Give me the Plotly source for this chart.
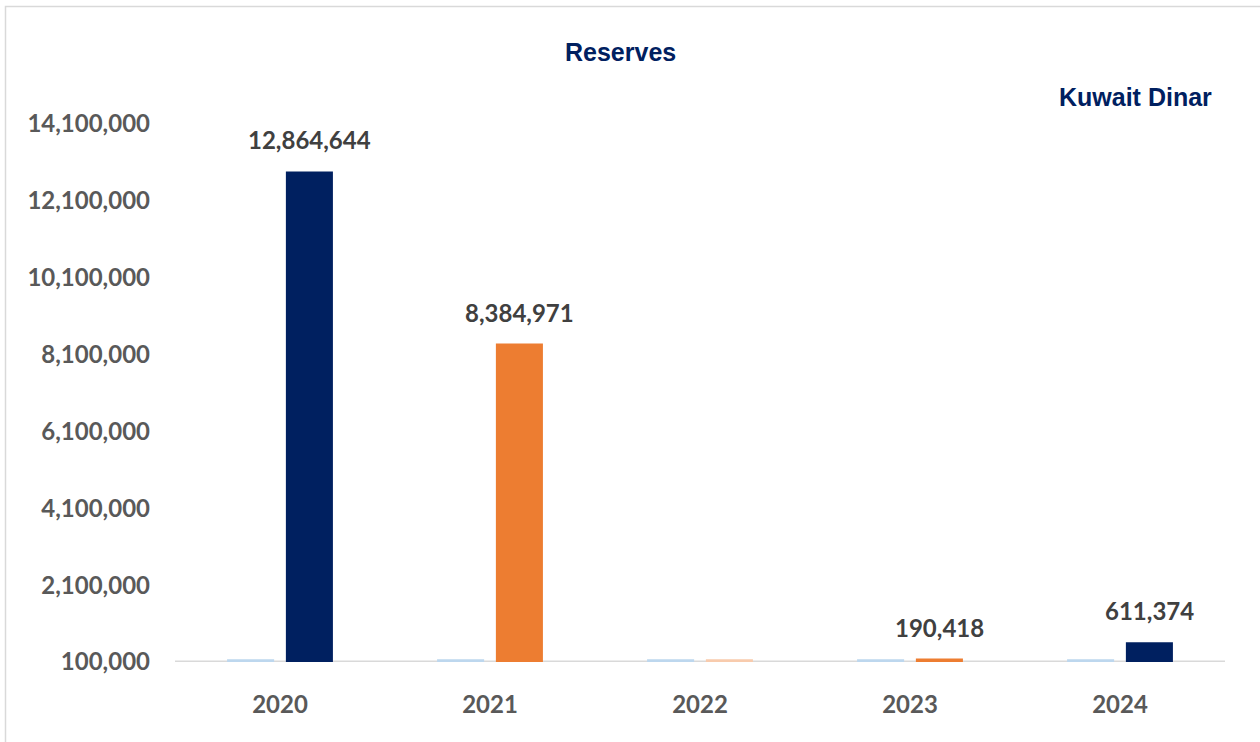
import plotly.graph_objects as go

# ---- data ----
years = ["2020", "2021", "2022", "2023", "2024"]
reserves = [12864644, 8384971, 170000, 190418, 611374]
reserve_labels = ["12,864,644", "8,384,971", "", "190,418", "611,374"]
placeholder = [170000, 170000, 170000, 170000, 170000]
bar_colors = ["#002060", "#ED7D31", "#F8CBAD", "#ED7D31", "#002060"]
y_ticks = [100000, 2100000, 4100000, 6100000, 8100000, 10100000, 12100000, 14100000]

NAVY = "#002060"
TICK_GRAY = "#595959"
LABEL_GRAY = "#404040"
NUM_FONT = "Lato, 'Open Sans', sans-serif"
TITLE_FONT = "'Liberation Sans', Arial, sans-serif"

fig = go.Figure()
fig.add_trace(go.Bar(
    x=years, y=placeholder, name="placeholder",
    marker=dict(color="#BDD7EE", line=dict(width=0)),
    hoverinfo="skip", showlegend=False,
))
fig.add_trace(go.Bar(
    x=years, y=reserves, name="Reserves",
    marker=dict(color=bar_colors, line=dict(width=0)),
    showlegend=False,
))

# data labels
for i, (v, t) in enumerate(zip(reserves, reserve_labels)):
    if t:
        fig.add_annotation(
            x=i + 0.14, y=v, xref="x", yref="y", text=t, showarrow=False,
            yanchor="bottom", xanchor="center", yshift=15,
            font=dict(family=NUM_FONT, size=24, color=LABEL_GRAY, weight="bold"),
        )

# plot geometry (pixels)
L, R, T, B = 175, 35, 100, 80
W, H = 1260, 742
pw, ph = W - L - R, H - T - B
y_bottom = 100000
y_top = y_bottom + ph * 14000000 / 538

def px_x(px):
    return (px - L) / pw

def px_y(py):
    return (H - B - py) / ph

# title + unit
fig.add_annotation(
    x=px_x(620), y=px_y(52), xref="paper", yref="paper", text="<b>Reserves</b>",
    showarrow=False, xanchor="center", yanchor="middle",
    font=dict(family=TITLE_FONT, size=25, color=NAVY),
)
fig.add_annotation(
    x=px_x(1214), y=px_y(97), xref="paper", yref="paper", text="<b>Kuwait Dinar</b>",
    showarrow=False, xanchor="right", yanchor="middle",
    font=dict(family=TITLE_FONT, size=25, color=NAVY),
)

# baseline
fig.add_shape(type="line", xref="paper", yref="y", x0=0, x1=1, y0=y_bottom, y1=y_bottom,
              line=dict(color="#D9D9D9", width=3), layer="below")
# outer frame
fig.add_shape(type="rect", xref="paper", yref="paper",
              x0=px_x(5.5), x1=px_x(1300), y0=px_y(800), y1=px_y(6.5),
              line=dict(color="#D9D9D9", width=1.5), fillcolor="rgba(0,0,0,0)", layer="below")

fig.update_layout(
    width=W, height=H,
    margin=dict(l=L, r=R, t=T, b=B, pad=0),
    paper_bgcolor="white", plot_bgcolor="white",
    barmode="group", bargap=0.44, bargroupgap=0.2,
    showlegend=False,
)
fig.update_xaxes(
    type="category", showgrid=False, zeroline=False, showline=False,
    ticks="", ticklabelstandoff=26,
    tickfont=dict(family=NUM_FONT, size=24, color=TICK_GRAY, weight="bold"),
)
fig.update_yaxes(
    range=[y_bottom, y_top], tickvals=y_ticks, tickformat=",",
    showgrid=False, zeroline=False, showline=False, ticks="",
    ticklabelstandoff=24,
    tickfont=dict(family=NUM_FONT, size=24, color=TICK_GRAY, weight="bold"),
)

fig.write_html("out.html")
